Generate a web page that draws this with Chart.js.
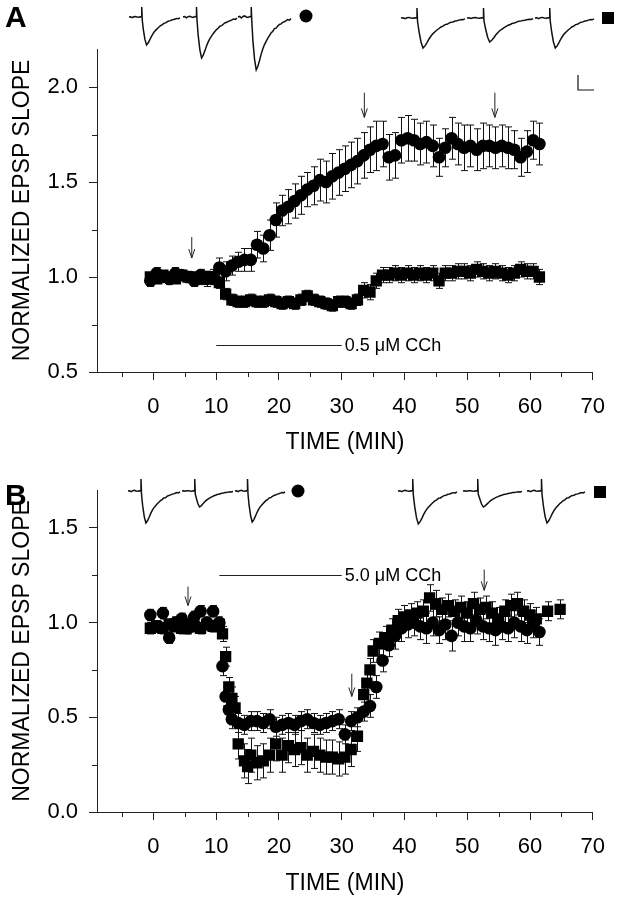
<!DOCTYPE html>
<html>
<head>
<meta charset="utf-8">
<script src="https://cdn.jsdelivr.net/npm/chart.js@4.4.0/dist/chart.umd.min.js"></script>
<style>
  html, body { margin: 0; padding: 0; background: #fff; }
  #wrap { position: relative; width: 619px; height: 899px; }
  canvas { position: absolute; left: 0; }
  #chartA { top: 0; }
  #chartB { top: 465px; }
</style>
</head>
<body>
<div id="wrap">
  <canvas id="chartA" width="619" height="465"></canvas>
  <canvas id="chartB" width="619" height="434"></canvas>
</div>
<script>
// ---------- axes ----------
var xTicks = [0, 10, 20, 30, 40, 50, 60, 70];
var xMinor = [-5, 5, 15, 25, 35, 45, 55, 65];
var yTicksA = [0.5, 1.0, 1.5, 2.0];
var yMinorA = [0.75, 1.25, 1.75];
var yTicksB = [0.0, 0.5, 1.0, 1.5];
var yMinorB = [0.25, 0.75, 1.25];

// ---------- panel A : 0.5 uM CCh ----------
var timeA = [-0.5, 0.5, 1.5, 2.5, 3.5, 4.5, 5.5, 6.5, 7.5, 8.5,
             9.5, 10.5, 11.5, 12.5, 13.5, 14.5, 15.5, 16.5, 17.5, 18.5,
             19.5, 20.5, 21.5, 22.5, 23.5, 24.5, 25.5, 26.5, 27.5, 28.5,
             29.5, 30.5, 31.5, 32.5, 33.5, 34.5, 35.5, 36.5, 37.5, 38.5,
             39.5, 40.5, 41.5, 42.5, 43.5, 44.5, 45.5, 46.5, 47.5, 48.5,
             49.5, 50.5, 51.5, 52.5, 53.5, 54.5, 55.5, 56.5, 57.5, 58.5,
             59.5, 60.5, 61.5];
var circleA = [0.98, 1.02, 1.00, 0.99, 1.02, 1.01, 1.00, 0.98, 1.01, 0.99,
               1.00, 1.05, 1.03, 1.06, 1.08, 1.09, 1.09, 1.17, 1.15, 1.22,
               1.30, 1.35, 1.37, 1.40, 1.43, 1.46, 1.48, 1.51, 1.50, 1.53,
               1.55, 1.57, 1.59, 1.61, 1.64, 1.67, 1.69, 1.70, 1.63, 1.64,
               1.72, 1.73, 1.72, 1.70, 1.71, 1.69, 1.63, 1.68, 1.73, 1.70,
               1.68, 1.69, 1.67, 1.69, 1.69, 1.68, 1.69, 1.68, 1.67, 1.63,
               1.66, 1.72, 1.70];
var circleErrA = [0.03, 0.03, 0.02, 0.03, 0.03, 0.02, 0.03, 0.03, 0.03, 0.04,
                  0.04, 0.05, 0.05, 0.05, 0.05, 0.06, 0.06, 0.07, 0.07, 0.08,
                  0.09, 0.08, 0.09, 0.09, 0.10, 0.09, 0.10, 0.11, 0.11, 0.12,
                  0.12, 0.12, 0.12, 0.12, 0.12, 0.12, 0.13, 0.12, 0.12, 0.12,
                  0.12, 0.12, 0.11, 0.11, 0.11, 0.11, 0.10, 0.10, 0.11, 0.11,
                  0.12, 0.11, 0.11, 0.12, 0.11, 0.11, 0.11, 0.11, 0.10, 0.10,
                  0.11, 0.10, 0.11];
var squareA = [1.00, 0.99, 1.01, 1.00, 0.99, 1.01, 1.00, 1.00, 0.99, 1.00,
               0.99, 0.97, 0.91, 0.88, 0.87, 0.87, 0.88, 0.87, 0.87, 0.88,
               0.87, 0.86, 0.87, 0.86, 0.88, 0.90, 0.88, 0.87, 0.86, 0.85,
               0.87, 0.87, 0.86, 0.88, 0.93, 0.92, 0.98, 1.01, 1.01, 1.02,
               1.01, 1.02, 1.01, 1.02, 1.01, 1.02, 0.98, 1.02, 1.02, 1.03,
               1.03, 1.02, 1.04, 1.03, 1.02, 1.03, 1.02, 1.01, 1.02, 1.04,
               1.03, 1.03, 1.00];
var squareErrA = [0.02, 0.02, 0.02, 0.02, 0.02, 0.02, 0.02, 0.02, 0.03, 0.03,
                  0.03, 0.03, 0.03, 0.03, 0.03, 0.03, 0.03, 0.03, 0.03, 0.03,
                  0.03, 0.03, 0.03, 0.03, 0.03, 0.03, 0.03, 0.03, 0.03, 0.03,
                  0.03, 0.03, 0.03, 0.03, 0.04, 0.04, 0.04, 0.04, 0.04, 0.04,
                  0.04, 0.04, 0.04, 0.04, 0.04, 0.04, 0.04, 0.04, 0.04, 0.04,
                  0.04, 0.04, 0.04, 0.04, 0.04, 0.04, 0.04, 0.04, 0.04, 0.04,
                  0.04, 0.04, 0.04];

// ---------- panel B : 5.0 uM CCh ----------
var timeCircleB = [-0.5, 0.5, 1.5, 2.5, 3.5, 4.5, 5.5, 6.5, 7.5, 8.5,
                   9.5, 10.5, 11, 11.5, 12, 12.5, 13.5, 14.5, 15.5, 16.5,
                   17.5, 18.5, 19.5, 20.5, 21.5, 22.5, 23.5, 24.5, 25.5, 26.5,
                   27.5, 28.5, 29.5, 30.5, 31.5, 32.5, 33.5, 34.5, 35.5, 36.5,
                   37.5, 38.5, 39.5, 40.5, 41.5, 42.5, 43.5, 44.5, 45.5, 46.5,
                   47.5, 48.5, 49.5, 50.5, 51.5, 52.5, 53.5, 54.5, 55.5, 56.5,
                   57.5, 58.5, 59.5, 60.5, 61.5];
var circleB = [1.04, 0.98, 1.05, 0.92, 1.00, 1.02, 0.97, 1.03, 1.06, 1.00,
               1.06, 1.00, 0.77, 0.61, 0.54, 0.49, 0.47, 0.46, 0.48, 0.48,
               0.47, 0.49, 0.45, 0.46, 0.47, 0.46, 0.48, 0.49, 0.47, 0.46,
               0.47, 0.48, 0.49, 0.41, 0.48, 0.50, 0.53, 0.56, 0.66, 0.80,
               0.88, 0.93, 0.97, 0.99, 1.00, 0.98, 0.97, 1.00, 0.96, 0.99,
               0.93, 1.00, 0.98, 0.97, 1.01, 0.98, 0.97, 0.96, 0.98, 0.97,
               1.00, 0.98, 0.96, 0.99, 0.95];
var circleErrB = [0.03, 0.03, 0.03, 0.03, 0.03, 0.03, 0.03, 0.03, 0.03, 0.03,
                  0.03, 0.03, 0.05, 0.05, 0.05, 0.05, 0.05, 0.05, 0.05, 0.05,
                  0.05, 0.05, 0.05, 0.05, 0.05, 0.05, 0.05, 0.05, 0.05, 0.05,
                  0.05, 0.05, 0.05, 0.05, 0.05, 0.05, 0.05, 0.06, 0.06, 0.06,
                  0.06, 0.07, 0.07, 0.07, 0.07, 0.07, 0.08, 0.07, 0.07, 0.08,
                  0.08, 0.07, 0.08, 0.07, 0.07, 0.07, 0.07, 0.08, 0.07, 0.07,
                  0.08, 0.08, 0.07, 0.07, 0.07];
var timeSquareB = [-0.5, 0.5, 1.5, 2.5, 3.5, 4.5, 5.5, 6.5, 7.5, 8.5,
                   9.5, 10.5, 11, 11.5, 12, 12.5, 13, 13.5, 14.5, 15,
                   15.5, 16.5, 17.5, 18.5, 19.5, 20.5, 21.5, 22.5, 23.5, 24.5,
                   25.5, 26.5, 27.5, 28.5, 29.5, 30.5, 31.5, 32.5, 33.5, 34,
                   34.5, 35, 36, 37, 38, 39, 40, 41, 42, 43,
                   44, 45, 46, 47, 48, 49, 50, 51, 52, 53,
                   54, 55, 56, 57, 58, 59, 60, 61, 62.8, 64.8];
var squareB = [0.97, 0.98, 0.97, 0.99, 0.98, 0.97, 0.99, 0.98, 0.97, 0.99,
               0.98, 0.99, 0.94, 0.82, 0.66, 0.60, 0.55, 0.36, 0.27, 0.24,
               0.30, 0.26, 0.27, 0.30, 0.36, 0.30, 0.35, 0.33, 0.34, 0.30,
               0.32, 0.30, 0.29, 0.29, 0.28, 0.29, 0.33, 0.40, 0.62, 0.68,
               0.75, 0.85, 0.89, 0.92, 0.96, 1.01, 1.03, 1.04, 1.05, 1.06,
               1.13, 1.10, 1.07, 1.09, 1.06, 1.08, 1.05, 1.10, 1.07, 1.08,
               1.05, 1.02, 1.06, 1.09, 1.10, 1.06, 1.04, 1.02, 1.06, 1.07];
var squareErrB = [0.03, 0.03, 0.03, 0.03, 0.03, 0.03, 0.03, 0.03, 0.03, 0.03,
                  0.03, 0.03, 0.04, 0.05, 0.05, 0.06, 0.06, 0.08, 0.09, 0.09,
                  0.09, 0.09, 0.09, 0.09, 0.09, 0.09, 0.09, 0.09, 0.09, 0.09,
                  0.09, 0.09, 0.09, 0.09, 0.09, 0.09, 0.09, 0.08, 0.07, 0.06,
                  0.06, 0.06, 0.06, 0.06, 0.06, 0.06, 0.06, 0.06, 0.06, 0.06,
                  0.07, 0.07, 0.06, 0.06, 0.06, 0.06, 0.06, 0.06, 0.06, 0.06,
                  0.06, 0.06, 0.06, 0.06, 0.06, 0.06, 0.06, 0.06, 0.05, 0.05];

// ---------- annotations (arrows, drug bars) ----------
var arrowsA = [[6.1, 1.21, 1.10], [33.6, 1.97, 1.84], [54.4, 1.97, 1.84]];
var arrowsB = [[5.5, 1.19, 1.09], [31.6, 0.73, 0.61], [52.7, 1.28, 1.17]];
var drugA = [10, 30, 0.64, '0.5 \u03bcM CCh'];
var drugB = [10.5, 30, 1.25, '5.0 \u03bcM CCh'];

// EPSP inset waveform (0 = baseline, -1 = peak), sampled evenly
var epspShape = [0, 0.01, -0.02, 0.01, 0.02, 0, -0.01, 0.01, 0, -0.45, -0.8, -1.0, -0.93,
                 -0.82, -0.7, -0.6, -0.52, -0.46, -0.4, -0.35, -0.3, -0.27, -0.22, -0.21,
                 -0.17, -0.14, -0.13, -0.1, -0.09, -0.07, -0.05, -0.06, -0.03];
var depthCircleA = [28, 41, 53];
var depthSquareA = [30, 24, 30];
var depthCircleB = [32, 16, 31];
var depthSquareB = [33, 16, 32];

var FONT = "'Liberation Sans', Arial, Helvetica, sans-serif";
Chart.defaults.font.family = FONT;
Chart.defaults.color = '#000';

function pts(t, v, e) {
  return t.map(function (x, i) { return { x: x, y: v[i], e: e[i] }; });
}

// error bars, drawn under markers
var errorBars = {
  id: 'errorBars',
  beforeDatasetsDraw: function (chart) {
    var ctx = chart.ctx, xs = chart.scales.x, ys = chart.scales.y;
    ctx.save();
    ctx.strokeStyle = '#111';
    ctx.lineWidth = 1;
    chart.data.datasets.forEach(function (ds) {
      ds.data.forEach(function (p) {
        var px = Math.round(xs.getPixelForValue(p.x)) + 0.5;
        var top = ys.getPixelForValue(p.y + p.e);
        var bot = ys.getPixelForValue(p.y - p.e);
        ctx.beginPath();
        ctx.moveTo(px, top); ctx.lineTo(px, bot);
        ctx.moveTo(px - 3.5, top); ctx.lineTo(px + 3.5, top);
        ctx.moveTo(px - 3.5, bot); ctx.lineTo(px + 3.5, bot);
        ctx.stroke();
      });
    });
    ctx.restore();
  }
};

function drawTrace(ctx, x0, x1, y0, depth, spike) {
  var n = epspShape.length;
  ctx.beginPath();
  for (var i = 0; i < n; i++) {
    var x = x0 + (x1 - x0) * i / (n - 1);
    var y = y0 - epspShape[i] * depth;
    if (i === 0) ctx.moveTo(x, y); else ctx.lineTo(x, y);
    if (i === 8) { ctx.lineTo(x, y0 - spike); ctx.lineTo(x + 0.5, y0 + 3); }
  }
  ctx.stroke();
}

// minor ticks, arrows, drug bar, insets, panel letter
var extras = {
  id: 'extras',
  afterDraw: function (chart, args, o) {
    var ctx = chart.ctx, xs = chart.scales.x, ys = chart.scales.y;
    var area = chart.chartArea;
    ctx.save();
    ctx.strokeStyle = '#222';
    ctx.lineWidth = 1;
    ctx.beginPath();
    o.yMinor.forEach(function (v) {
      var py = Math.round(ys.getPixelForValue(v)) + 0.5;
      ctx.moveTo(area.left - 5, py); ctx.lineTo(area.left, py);
    });
    xMinor.forEach(function (v) {
      var px = Math.round(xs.getPixelForValue(v)) + 0.5;
      ctx.moveTo(px, area.bottom); ctx.lineTo(px, area.bottom + 5);
    });
    ctx.stroke();

    // arrows
    o.arrows.forEach(function (a) {
      var px = xs.getPixelForValue(a[0]);
      var t = ys.getPixelForValue(a[1]), b = ys.getPixelForValue(a[2]);
      ctx.beginPath();
      ctx.moveTo(px, t); ctx.lineTo(px, b);
      ctx.moveTo(px - 3, b - 9); ctx.lineTo(px, b); ctx.lineTo(px + 3, b - 9);
      ctx.stroke();
    });

    // drug application bar
    var d = o.drug;
    var dy = Math.round(ys.getPixelForValue(d[2])) + 0.5;
    var dx1 = xs.getPixelForValue(d[1]);
    ctx.beginPath();
    ctx.moveTo(xs.getPixelForValue(d[0]), dy); ctx.lineTo(dx1, dy);
    ctx.stroke();
    ctx.fillStyle = '#000';
    ctx.font = '18px ' + FONT;
    ctx.textBaseline = 'middle';
    ctx.textAlign = 'left';
    ctx.fillText(d[3], dx1 + 3, dy + 1);

    // EPSP insets
    var ins = o.insets;
    ctx.lineWidth = 1.5;
    ctx.strokeStyle = '#111';
    ins.circleX.forEach(function (xr, i) {
      drawTrace(ctx, xr[0], xr[1], ins.circleY, ins.circleDepth[i], ins.spike);
    });
    ins.squareX.forEach(function (xr, i) {
      drawTrace(ctx, xr[0], xr[1], ins.squareY, ins.squareDepth[i], ins.spike);
    });
    ctx.fillStyle = '#000';
    ctx.beginPath();
    ctx.arc(ins.dot[0], ins.dot[1], 6.5, 0, Math.PI * 2);
    ctx.fill();
    ctx.fillRect(ins.box[0] - 6, ins.box[1] - 6, 12, 12);

    if (ins.scaleBar) {
      var s = ins.scaleBar;
      ctx.lineWidth = 1.2;
      ctx.beginPath();
      ctx.moveTo(s[0], s[1]); ctx.lineTo(s[0], s[2]); ctx.lineTo(s[3], s[2]);
      ctx.stroke();
    }

    ctx.font = 'bold 30px Arial, ' + FONT;
    ctx.textBaseline = 'alphabetic';
    ctx.fillText(o.letter[0], o.letter[1], o.letter[2]);
    ctx.restore();
  }
};

function makeChart(id, cfg) {
  return new Chart(document.getElementById(id), {
    type: 'scatter',
    data: {
      datasets: [{
        data: cfg.circles,
        pointStyle: 'circle',
        pointRadius: 6.3,
        backgroundColor: '#000',
        borderColor: '#000',
        borderWidth: 0,
        order: cfg.circleOrder
      }, {
        data: cfg.squares,
        pointStyle: 'rect',
        pointRadius: 8,
        backgroundColor: '#000',
        borderColor: '#000',
        borderWidth: 0,
        order: cfg.squareOrder
      }]
    },
    options: {
      responsive: false,
      animation: false,
      events: [],
      layout: { padding: { left: 0, right: 16, top: cfg.top, bottom: 0 } },
      plugins: {
        legend: { display: false },
        tooltip: { enabled: false },
        extras: cfg.extras
      },
      scales: {
        x: {
          type: 'linear',
          min: -9,
          max: 70,
          afterBuildTicks: function (s) { s.ticks = xTicks.map(function (v) { return { value: v }; }); },
          afterFit: function (s) { s.height = cfg.xHeight; },
          ticks: { font: { size: 22 }, padding: 14, maxRotation: 0 },
          grid: { drawOnChartArea: false, tickLength: 8, color: '#222' },
          border: { color: '#222', width: 1 },
          title: { display: true, text: 'TIME (MIN)', font: { size: 23 }, padding: { top: 0, bottom: cfg.titlePad } }
        },
        y: {
          min: cfg.yMin,
          max: cfg.yMax,
          afterBuildTicks: function (s) { s.ticks = cfg.yTicks.map(function (v) { return { value: v }; }); },
          afterFit: function (s) { s.width = 97; },
          ticks: { font: { size: 22 }, padding: 11, callback: function (v) { return v.toFixed(1); } },
          grid: { drawOnChartArea: false, tickLength: 8, color: '#222' },
          border: { color: '#222', width: 1 },
          title: { display: true, text: 'NORMALIZED EPSP SLOPE', font: { size: 23 }, padding: { top: 9, bottom: 0 } }
        }
      }
    },
    plugins: [errorBars, extras]
  });
}

makeChart('chartA', {
  circles: pts(timeA, circleA, circleErrA),
  squares: pts(timeA, squareA, squareErrA),
  circleOrder: 0, squareOrder: 1,
  top: 49, xHeight: 93, titlePad: 9,
  yMin: 0.5, yMax: 2.2, yTicks: yTicksA,
  extras: {
    yMinor: yMinorA, arrows: arrowsA, drug: drugA, letter: ['A', 5, 27],
    insets: {
      circleX: [[129, 180], [183, 237], [238, 291]], circleY: 17, circleDepth: depthCircleA,
      squareX: [[401, 465], [467, 533], [535, 594]], squareY: 18, squareDepth: depthSquareA,
      spike: 10, dot: [306, 16], box: [608, 18], scaleBar: [578, 75, 90, 594]
    }
  }
});

makeChart('chartB', {
  circles: pts(timeCircleB, circleB, circleErrB),
  squares: pts(timeSquareB, squareB, squareErrB),
  circleOrder: 1, squareOrder: 0,
  top: 25, xHeight: 87, titlePad: 2,
  yMin: 0, yMax: 1.7, yTicks: yTicksB,
  extras: {
    yMinor: yMinorB, arrows: arrowsB, drug: drugB, letter: ['B', 5, 40],
    insets: {
      circleX: [[128, 180], [182, 233], [235, 285]], circleY: 26, circleDepth: depthCircleB,
      squareX: [[398, 457], [463, 522], [527, 585]], squareY: 26, squareDepth: depthSquareB,
      spike: 12, dot: [298, 26], box: [600, 27], scaleBar: null
    }
  }
});
</script>
</body>
</html>
